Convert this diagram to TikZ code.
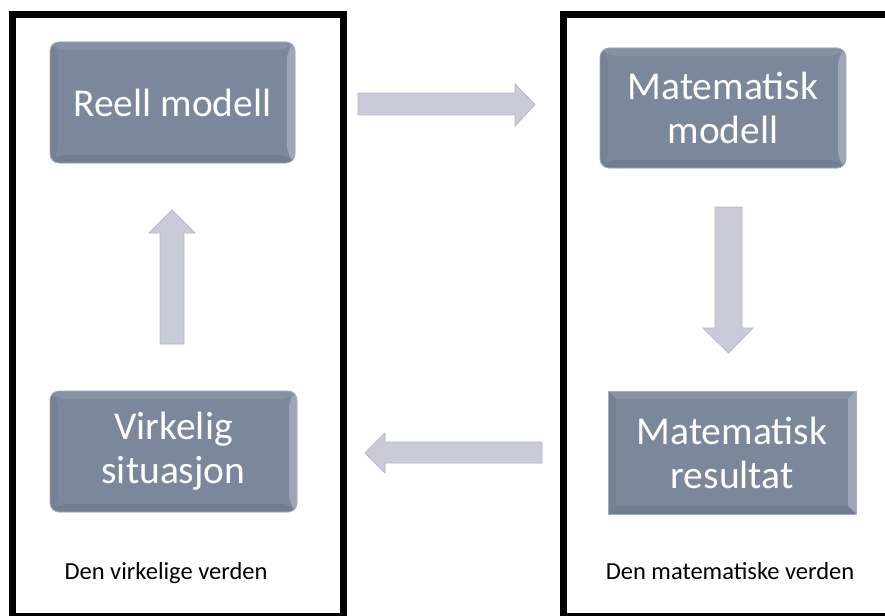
\documentclass[tikz,border=0pt]{standalone}
\usepackage{fontspec}
\setmainfont{Carlito}
\definecolor{boxfill}{HTML}{7B879B}
\definecolor{bevlight}{HTML}{8691A6}
\definecolor{bevdark}{HTML}{717D90}
\definecolor{bevedge}{HTML}{A3ADBE}
\definecolor{arrfill}{HTML}{C9CBD8}
\definecolor{arredge}{HTML}{B6B9C9}
\tikzset{
  modelbox/.style={draw=bevedge, line width=0.8pt, fill=boxfill, text=white,
    inner sep=0pt, align=center, font=\fontsize{39.5}{44}\selectfont,
    path picture={
      \fill[bevlight] (path picture bounding box.north west) -- (path picture bounding box.north east)
        -- ([xshift=-8pt,yshift=-8pt]path picture bounding box.north east) -- ([xshift=8pt,yshift=-8pt]path picture bounding box.north west) -- cycle;
      \fill[bevlight!80!white] (path picture bounding box.north east) -- (path picture bounding box.south east)
        -- ([xshift=-8pt,yshift=8pt]path picture bounding box.south east) -- ([xshift=-8pt,yshift=-8pt]path picture bounding box.north east) -- cycle;
      \fill[bevdark] (path picture bounding box.south west) -- (path picture bounding box.south east)
        -- ([xshift=-8pt,yshift=8pt]path picture bounding box.south east) -- ([xshift=8pt,yshift=8pt]path picture bounding box.south west) -- cycle;
      \fill[bevdark!70!boxfill] (path picture bounding box.north west) -- (path picture bounding box.south west)
        -- ([xshift=8pt,yshift=8pt]path picture bounding box.south west) -- ([xshift=8pt,yshift=-8pt]path picture bounding box.north west) -- cycle;
    }},
  frame/.style={draw=black, line width=7pt},
  blockarrow/.style={fill=arrfill, draw=arredge, line width=0.8pt, line join=miter},
  worldlabel/.style={font=\fontsize{24.5}{28}\selectfont, text=black, inner sep=0pt, anchor=base}
}
\begin{document}
\begin{tikzpicture}[x=1pt, y=-1pt]
\useasboundingbox (0,0) rectangle (885,615);
\fill[white] (0,0) rectangle (885,615);
% frames
\draw[frame] (12,14.5) rectangle (343,616);
\draw[frame] (563.5,14.5) rectangle (892,616);
% boxes
\node[modelbox, rounded corners=9pt, minimum width=245pt, minimum height=121pt] (reell) at (172.5,102.5) {Reell modell};
\node[modelbox, rounded corners=9pt, minimum width=246pt, minimum height=120pt] (matmod) at (723,108) {Matematisk\\modell};
\node[modelbox, rounded corners=9pt, minimum width=247pt, minimum height=121pt] (virk) at (173.5,451.5) {Virkelig\\situasjon};
\node[modelbox, minimum width=248pt, minimum height=123pt] (matres) at (732,452.5) {Matematisk\\resultat};
% world labels
\node[worldlabel] (lv) at (166,579) {Den virkelige verden};
\node[worldlabel] (lm) at (730,579) {Den matematiske verden};
% block arrows
\coordinate (ra) at (358,93);
\draw[blockarrow] (ra) -- (515,93) -- (515,84) -- (535,104.5) -- (515,126) -- (515,115) -- (358,115) -- cycle;
\coordinate (da) at (715,207);
\draw[blockarrow] (da) -- (742,207) -- (742,328) -- (753,328) -- (728.5,353) -- (703,328) -- (715,328) -- cycle;
\coordinate (la) at (542,442);
\draw[blockarrow] (la) -- (542,463) -- (385,463) -- (385,473) -- (365,453) -- (385,433) -- (385,442) -- cycle;
\coordinate (ua) at (160,344);
\draw[blockarrow] (ua) -- (184,344) -- (184,233) -- (195,233) -- (172,210) -- (149,233) -- (160,233) -- cycle;
\end{tikzpicture}
\end{document}
